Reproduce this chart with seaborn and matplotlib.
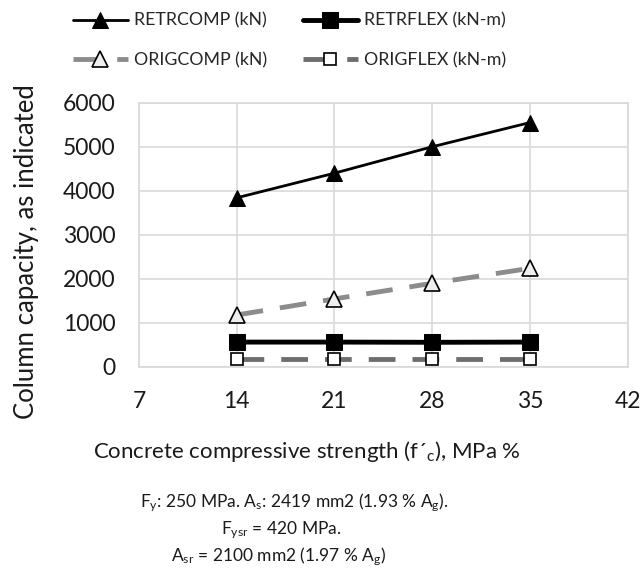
import matplotlib
matplotlib.use("Agg")
import matplotlib.pyplot as plt
import seaborn as sns
import pandas as pd

fc = [14, 21, 28, 35]
retrcomp = [3840, 4400, 5000, 5550]
retrflex = [565, 565, 560, 565]
origcomp = [1180, 1545, 1900, 2240]
origflex = [175, 175, 175, 175]
xticks = [7, 14, 21, 28, 35, 42]
yticks = [0, 1000, 2000, 3000, 4000, 5000, 6000]

sns.set_theme(style="whitegrid")
plt.rcParams['font.family'] = ['Lato', 'DejaVu Sans']
plt.rcParams['mathtext.default'] = 'regular'

fig = plt.figure(figsize=(6.4, 5.77), dpi=100)
ax = fig.add_axes([0.217, 0.364, 0.764, 0.458])

grid_c = '#d9d9d9'
txt_c = '#1a1a1a'
sns.lineplot(x=fc, y=retrcomp, ax=ax, color='black', lw=2, marker='^', markersize=12,
             markerfacecolor='black', markeredgecolor='black', label='RETRCOMP (kN)')
sns.lineplot(x=fc, y=retrflex, ax=ax, color='black', lw=3.5, marker='s', markersize=11,
             markerfacecolor='black', markeredgecolor='black', label='RETRFLEX (kN-m)')
sns.lineplot(x=fc, y=origcomp, ax=ax, color='#8c8c8c', lw=3.5, marker='^', markersize=11,
             markerfacecolor='#eeeeee', markeredgecolor='black', markeredgewidth=1.2,
             dashes=(5.5, 3.5), label='ORIGCOMP (kN)')
sns.lineplot(x=fc, y=origflex, ax=ax, color='#6e6e6e', lw=3.5, marker='s', markersize=8,
             markerfacecolor='white', markeredgecolor='black', markeredgewidth=1.2,
             dashes=(5.5, 3.5), label='ORIGFLEX (kN-m)')

ax.set_xlim(7, 42)
ax.set_ylim(0, 6000)
ax.set_xticks(xticks)
ax.set_yticks(yticks)
ax.tick_params(axis='both', labelsize=16.5, length=0, colors=txt_c)
ax.tick_params(axis='y', pad=17)
ax.tick_params(axis='x', pad=17)
ax.grid(True, color=grid_c, lw=1.2)
for s in ax.spines.values():
    s.set_color(grid_c)
    s.set_linewidth(1.2)

ax.set_xlabel("")
ax.set_ylabel("")
fig.text(0.48, 0.218, "Concrete compressive strength (f\u00b4$_c$), MPa %", fontsize=16,
         color=txt_c, ha='center', va='center')
fig.text(0.042, 1 - 252 / 577, "Column capacity, as indicated", fontsize=18.5,
         color=txt_c, ha='center', va='center', rotation=90)

h, l = ax.get_legend_handles_labels()
ax.legend_.remove()
fig.legend([h[i] for i in [0, 2, 1, 3]], [l[i] for i in [0, 2, 1, 3]], ncol=2,
           loc='center', bbox_to_anchor=(0.452, 0.93), frameon=False, fontsize=12.8,
           handlelength=3.1, labelspacing=1.3, columnspacing=2.0, handletextpad=0.35)

note_kw = dict(ha='center', va='center', fontsize=12.5, color=txt_c)
fig.text(0.46, 1 - 503 / 577, "F$_y$: 250 MPa. A$_s$: 2419 mm2 (1.93 % A$_g$).", **note_kw)
fig.text(0.44, 1 - 530 / 577, "F$_{ysr}$ = 420 MPa.", **note_kw)
fig.text(0.435, 1 - 557 / 577, "A$_{sr}$ = 2100 mm2 (1.97 % A$_g$)", **note_kw)

fig.savefig("out.png", dpi=100)
